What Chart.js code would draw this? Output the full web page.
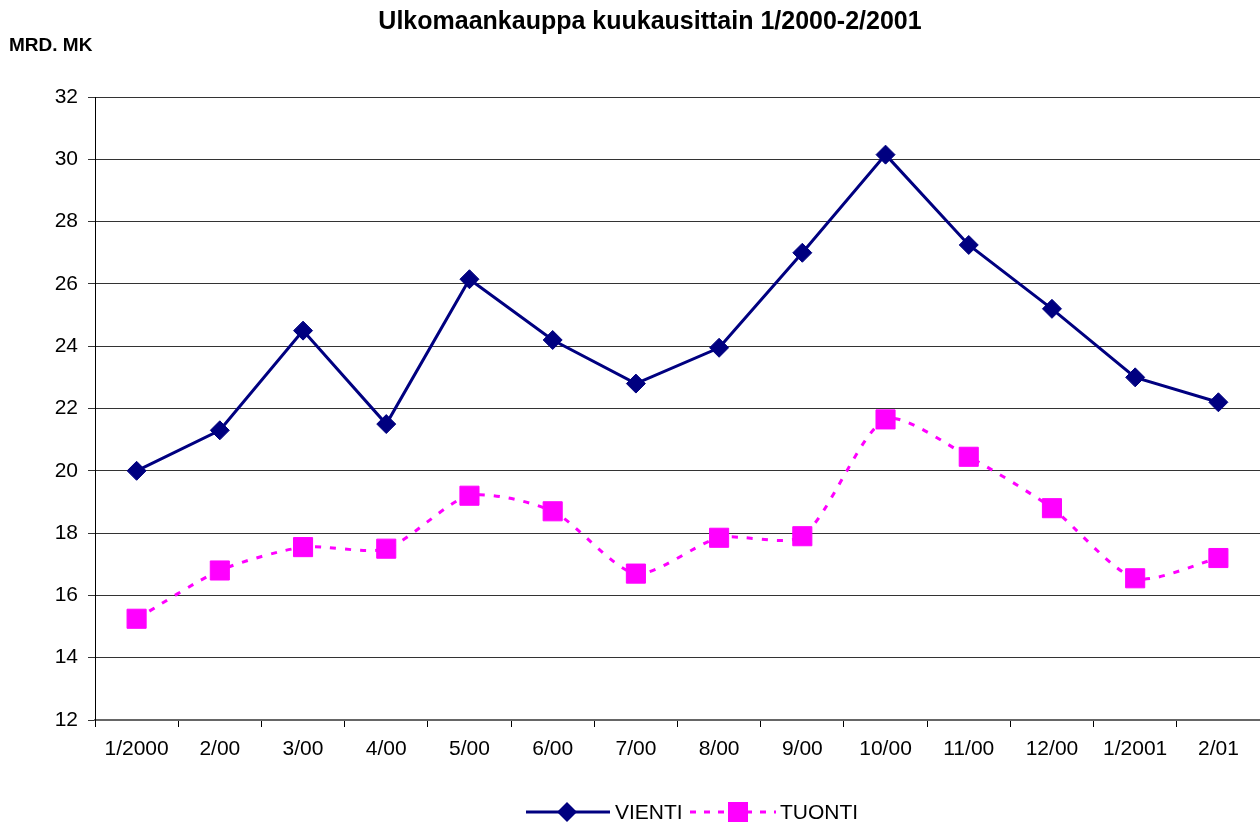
<!DOCTYPE html>
<html>
<head>
<meta charset="utf-8">
<script src="https://cdn.jsdelivr.net/npm/chart.js@4.4.0/dist/chart.umd.min.js"></script>
<style>
  html, body { margin: 0; padding: 0; background: #fff; overflow: hidden; }
  #wrap { width: 1260px; height: 823px; position: relative; }
  canvas { display: block; }
</style>
</head>
<body>
<div id="wrap"><canvas id="trade"></canvas></div>
<script>
// monthly foreign trade, billions of marks
var months = ["1/2000","2/00","3/00","4/00","5/00","6/00","7/00","8/00","9/00","10/00","11/00","12/00","1/2001","2/01"];
var vienti = [20.0, 21.3, 24.5, 21.5, 26.15, 24.2, 22.8, 23.95, 27.0, 30.15, 27.25, 25.2, 23.0, 22.2];
var tuonti = [15.25, 16.8, 17.55, 17.5, 19.2, 18.7, 16.7, 17.85, 17.9, 21.65, 20.45, 18.8, 16.55, 17.2];
var yTicks = [12, 14, 16, 18, 20, 22, 24, 26, 28, 30, 32];

var FONT = "'Liberation Sans', Arial, sans-serif";

// title, unit label and excel-ish legend drawn by hand
var decor = {
  id: 'decor',
  afterDraw: function(chart) {
    var ctx = chart.ctx;
    ctx.save();
    ctx.fillStyle = '#000';
    ctx.textBaseline = 'middle';
    ctx.font = 'bold 25px ' + FONT;
    ctx.textAlign = 'center';
    ctx.fillText('Ulkomaankauppa kuukausittain 1/2000-2/2001', 650, 22);
    ctx.font = 'bold 19px ' + FONT;
    ctx.textAlign = 'left';
    ctx.fillText('MRD. MK', 9, 46);

    var y = 812;
    var ds = chart.data.datasets;
    // VIENTI
    ctx.strokeStyle = ds[0].borderColor;
    ctx.lineWidth = 3;
    ctx.beginPath(); ctx.moveTo(526, y); ctx.lineTo(610, y); ctx.stroke();
    ctx.fillStyle = ds[0].borderColor;
    ctx.beginPath();
    ctx.moveTo(567, y - 10); ctx.lineTo(577, y); ctx.lineTo(567, y + 10); ctx.lineTo(557, y);
    ctx.closePath(); ctx.fill();
    ctx.fillStyle = '#000';
    ctx.font = '21px ' + FONT;
    ctx.fillText(ds[0].label, 615, y + 1);
    // TUONTI
    ctx.strokeStyle = ds[1].borderColor;
    ctx.setLineDash([6, 8]);
    ctx.beginPath(); ctx.moveTo(690, y); ctx.lineTo(776, y); ctx.stroke();
    ctx.setLineDash([]);
    ctx.fillStyle = ds[1].borderColor;
    ctx.fillRect(728, y - 10, 20, 20);
    ctx.fillStyle = '#000';
    ctx.fillText(ds[1].label, 780, y + 1);
    ctx.restore();
  }
};

new Chart(document.getElementById('trade'), {
  type: 'line',
  data: {
    labels: months,
    datasets: [
      {
        label: 'VIENTI',
        data: vienti,
        borderColor: '#000080',
        backgroundColor: '#000080',
        borderWidth: 3,
        pointStyle: 'rectRot',
        pointRadius: 9.5,
        pointBorderWidth: 1,
        tension: 0
      },
      {
        label: 'TUONTI',
        data: tuonti,
        borderColor: '#FF00FF',
        backgroundColor: '#FF00FF',
        borderWidth: 3,
        borderDash: [6, 9],
        pointStyle: 'rect',
        pointRadius: 13.5,
        pointBorderWidth: 1,
        tension: 0.25
      }
    ]
  },
  options: {
    responsive: true,
    maintainAspectRatio: false,
    animation: false,
    layout: { autoPadding: false, padding: { top: 97, right: 0, bottom: 0, left: 0 } },
    plugins: {
      legend: { display: false },
      title: { display: false },
      tooltip: { enabled: false }
    },
    scales: {
      x: {
        offset: true,
        afterFit: function(s) {
          s.height = 103;
          s.paddingLeft = 0;
          s.paddingRight = 0;
        },
        grid: {
          offset: true,
          drawOnChartArea: false,
          drawTicks: true,
          tickLength: 7,
          color: '#000'
        },
        border: { color: '#666', width: 2 },
        ticks: {
          color: '#000',
          font: { family: FONT, size: 21 },
          padding: 10,
          maxRotation: 0,
          autoSkip: false
        }
      },
      y: {
        min: 12,
        max: 32,
        afterFit: function(s) { s.width = 95; },
        afterBuildTicks: function(s) { s.ticks = yTicks.map(function(v) { return { value: v }; }); },
        grid: {
          color: '#333',
          lineWidth: 1,
          tickLength: 7
        },
        border: { color: '#000', width: 1 },
        ticks: {
          color: '#000',
          font: { family: FONT, size: 21 },
          padding: 10
        }
      }
    }
  },
  plugins: [decor]
});
</script>
</body>
</html>
